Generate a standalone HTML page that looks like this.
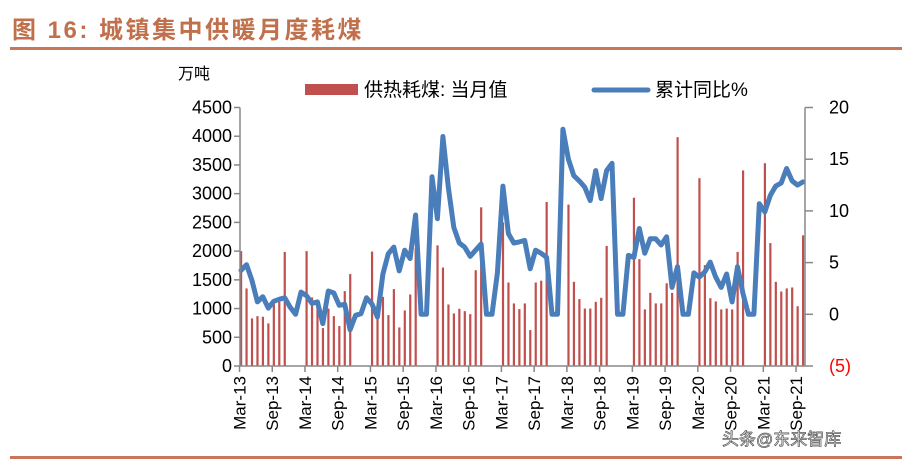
<!DOCTYPE html>
<html><head><meta charset="utf-8"><style>
body{margin:0;background:#fff;}
svg{display:block;font-family:"Liberation Sans","Noto Sans CJK SC",sans-serif;}
</style></head><body>
<svg id="chart" width="902" height="461" viewBox="0 0 902 461">
  <text x="12" y="38" font-size="24" font-weight="bold" letter-spacing="2.5" fill="#c0704a" font-family="Liberation Sans,Noto Sans CJK SC,sans-serif">图 16:  城镇集中供暖月度耗煤</text>
  <rect x="10" y="47" width="892" height="3" fill="#c8775a"/>
  <rect x="10" y="456" width="892" height="3" fill="#c8775a"/>
  <text x="178" y="79" font-size="16" fill="#000">万吨</text>
  <g>
    <rect x="305" y="84" width="53" height="11" fill="#c0504d"/>
    <text x="364" y="96" font-size="19">供热耗煤: 当月值</text>
    <line x1="594" y1="90" x2="648" y2="90" stroke="#4a7ebb" stroke-width="5" stroke-linecap="round"/>
    <text x="655" y="96" font-size="19">累计同比%</text>
  </g>
  <g id="grid"></g>
  <g id="bars"></g>
  <g id="line"></g>
  <g id="axes"></g>
  <text x="722" y="445" font-size="17" fill="#fff" stroke="#555" stroke-width="0.7">头条@东来智库</text>
</svg>
<script>
const startYear = 2013;
const monthNames = ["Jan","Feb","Mar","Apr","May","Jun","Jul","Aug","Sep","Oct","Nov","Dec"];
const barValues = [2000,1350,828,868,857,742,1147,1117,1986,null,null,null,
 2000,1193,1050,660,1000,868,695,1303,1600,null,null,null,
 1993,1050,1204,886,1338,672,967,1245,2050,null,null,null,
 2100,1714,1071,915,996,955,903,1668,2762,null,null,null,
 2500,1453,1089,990,1089,625,1453,1485,2855,null,null,null,
 2810,1465,1165,1000,1000,1117,1187,2090,null,null,null,null,
 2930,1860,985,1273,1090,1090,1440,1273,3984,null,null,null,
 3270,1755,1180,1124,985,1000,985,1986,3405,null,null,null,
 3530,2140,1465,1297,1350,1367,1040,2275];
const yoyValues = [4.25,4.8,3.3,1.2,1.7,0.6,1.26,1.45,1.6,0.7,0,2.15,
 1.8,1.06,1.2,-0.9,2.25,2.06,0.87,0.97,-1.5,-0.1,0.06,1.6,
 1.0,-0.26,3.9,5.86,6.5,4.2,6.2,5.4,9.6,0,0,13.3,
 9.25,17.2,12.3,8.4,6.9,6.5,5.6,6.2,6.8,0,0,4.0,
 12.4,7.8,6.9,7.0,7.15,4.4,6.2,5.9,5.5,0,0,17.9,
 15.0,13.4,12.9,12.3,11.0,13.9,11.2,13.9,14.6,0,0,5.7,
 5.5,8.3,5.9,7.3,7.3,6.7,7.5,2.6,4.6,0,0,4.0,
 3.6,4.1,5.05,3.6,2.6,3.9,1.2,4.6,2.0,0,0,10.7,
 9.9,11.5,12.4,12.7,14.1,12.9,12.5,12.8];
const leftTicks = [0,500,1000,1500,2000,2500,3000,3500,4000,4500];
const rightTicks = [-5,0,5,10,15,20];
const rightTickLabels = ["(5)","0","5","10","15","20"];

const NS="http://www.w3.org/2000/svg";
const X0=240, X1=805, Y0=366, Y1=107.5;
const N = 104;
function xPos(i){ return 241 + i*(X1-2-241)/(N-1); }
function yLeft(v){ return Y0 - v/4500*(Y0-Y1); }
function yRight(v){ return Y0 - (v+5)/25*(Y0-Y1); }
function mk(tag, attrs, parent){ const e=document.createElementNS(NS,tag); for(const k in attrs) e.setAttribute(k,attrs[k]); parent.appendChild(e); return e; }

const gBars=document.getElementById('bars');
barValues.forEach((v,i)=>{
  if(v==null) return;
  const r=mk('rect',{x:xPos(i)-1,y:yLeft(v),width:2.2,height:Y0-yLeft(v),fill:'#c0504d'},gBars);
  
  
});
const gLine=document.getElementById('line');
const pts=yoyValues.map((v,i)=>xPos(i).toFixed(1)+','+yRight(v).toFixed(1)).join(' ');
const pl=mk('polyline',{points:pts,fill:'none',stroke:'#4a7ebb','stroke-width':5,'stroke-linejoin':'round','stroke-linecap':'round'},gLine);



const gA=document.getElementById('axes');
const ax=mk('path',{d:`M${X0},${Y1}V${Y0}H${X1}V${Y1}`,fill:'none',stroke:'#888','stroke-width':1.5},gA);


leftTicks.forEach(t=>{
  const y=yLeft(t);
  mk('line',{x1:X0-6,y1:y,x2:X0,y2:y,stroke:'#888','stroke-width':1.5},gA);
  const tx=mk('text',{x:232,y:y+6,'font-size':18,'text-anchor':'end'},gA);
  tx.textContent=t;
  
  
});
rightTicks.forEach((t,k)=>{
  const y=yRight(t);
  mk('line',{x1:X1,y1:y,x2:X1+8,y2:y,stroke:'#888','stroke-width':1.5},gA);
  const tx=mk('text',{x:829,y:y+6,'font-size':18,fill:t<0?'#ff0000':'#000'},gA);
  tx.textContent=rightTickLabels[k];
  
  
});
for(let i=0;i<N;i+=6){
  const x=xPos(i)-1.5;
  mk('line',{x1:x,y1:Y0,x2:x,y2:Y0+6,stroke:'#888','stroke-width':1.5},gA);
  const m=(2+i)%12, yr=startYear+Math.floor((2+i)/12);
  const tx=mk('text',{x:0,y:0,'font-size':17,'text-anchor':'end',transform:`translate(${x+6},${Y0+10}) rotate(-90)`},gA);
  tx.textContent=monthNames[m]+'-'+String(yr%100).padStart(2,'0');
  
  
}
</script>
</body></html>
